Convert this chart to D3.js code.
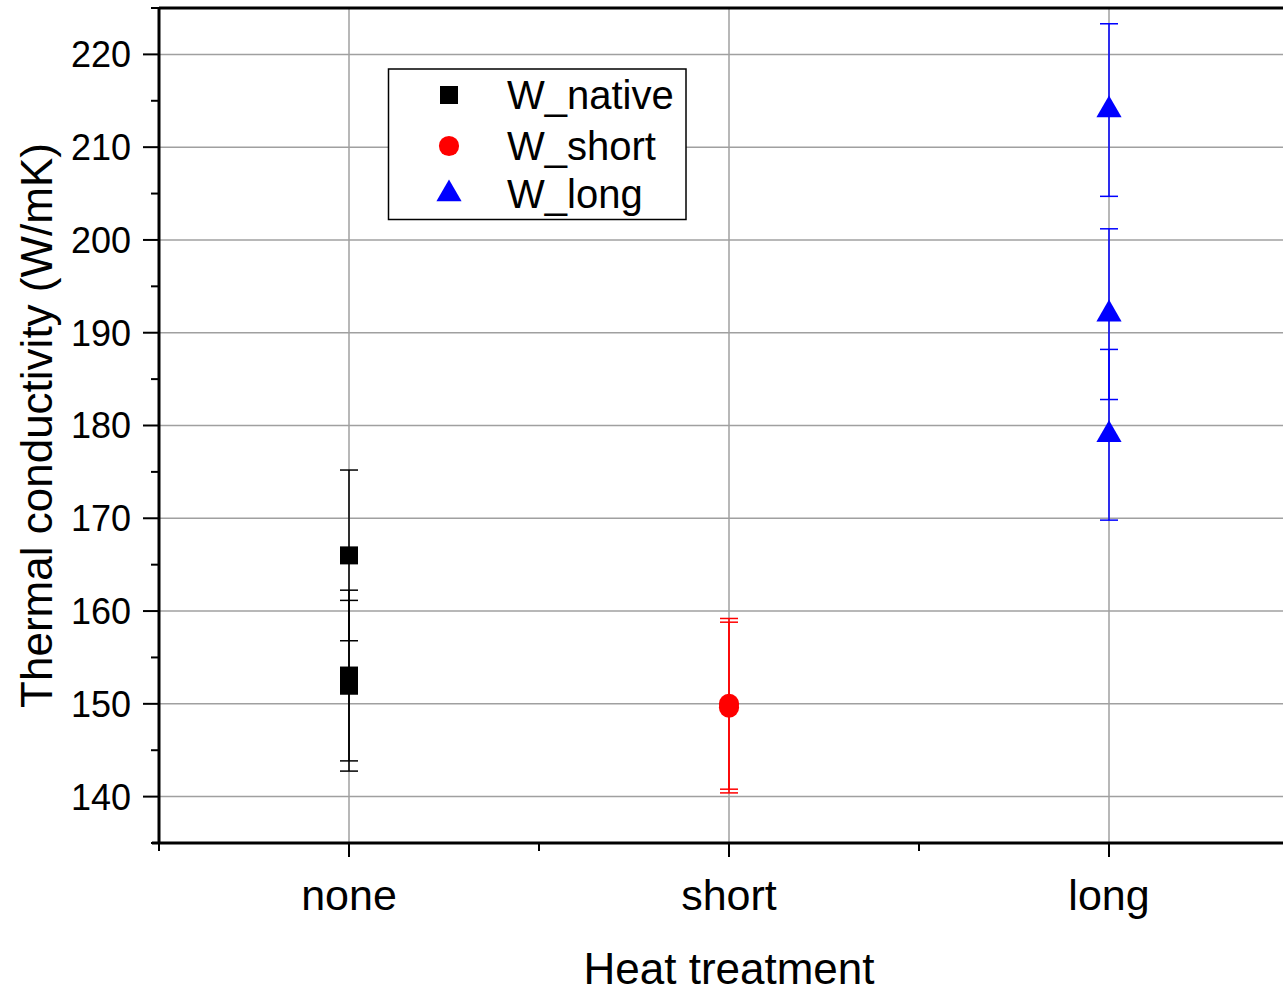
<!DOCTYPE html>
<html>
<head>
<meta charset="utf-8">
<script src="https://cdn.jsdelivr.net/npm/d3@7"></script>
<style>
  html, body { margin: 0; padding: 0; background: #fff; }
  svg { display: block; font-family: "Liberation Sans", Arial, sans-serif; }
</style>
</head>
<body>
<svg id="chart" width="1283" height="994"></svg>
<script>
// Categories on the x axis
const categories = ["none", "short", "long"];
// Y axis ticks (W/mK)
const yTicks = [140, 150, 160, 170, 180, 190, 200, 210, 220];
const yMinorTicks = [135, 145, 155, 165, 175, 185, 195, 205, 215, 225];

// Measured samples per series: value and error (±)
const nativeValues = [166.0, 153.05, 151.95];
const nativeErrors = [9.2, 9.2, 9.2];
const shortValues = [150.0, 149.6];
const shortErrors = [9.2, 9.2];
const longValues = [214.0, 192.0, 179.0];
const longErrors = [9.3, 9.2, 9.2];

const seriesNames = ["W_native", "W_short", "W_long"];
const seriesColors = ["#000000", "#ff0000", "#0000ff"];

const series = [
  { name: seriesNames[0], cat: 0, values: nativeValues, errors: nativeErrors, color: seriesColors[0], symbol: d3.symbolSquare, size: 324 },
  { name: seriesNames[1], cat: 1, values: shortValues, errors: shortErrors, color: seriesColors[1], symbol: d3.symbolCircle, size: 320 },
  { name: seriesNames[2], cat: 2, values: longValues, errors: longErrors, color: seriesColors[2], symbol: d3.symbolTriangle, size: 275 }
];

const svg = d3.select("#chart");
const plot = { left: 159, top: 8, bottom: 843, right: 1299 };

const x = d3.scaleLinear().domain([0.5, 3.5]).range([plot.left, plot.right]);
const y = d3.scaleLinear().domain([135, 225]).range([plot.bottom, plot.top]);

// Grid
const grid = svg.append("g").attr("stroke", "#a0a0a0").attr("stroke-width", 1.5);
grid.selectAll("line.h").data(yTicks).join("line")
  .attr("x1", plot.left).attr("x2", plot.right)
  .attr("y1", d => y(d)).attr("y2", d => y(d));
grid.selectAll("line.v").data(categories).join("line")
  .attr("x1", (d, i) => x(i + 1)).attr("x2", (d, i) => x(i + 1))
  .attr("y1", plot.top).attr("y2", plot.bottom);

// Error bars and markers
const capHalf = 9;
series.forEach(s => {
  const g = svg.append("g").attr("stroke", s.color).attr("stroke-width", 1.5);
  const cx = x(s.cat + 1);
  s.values.forEach((v, i) => {
    const e = s.errors[i];
    g.append("line").attr("x1", cx).attr("x2", cx).attr("y1", y(v + e)).attr("y2", y(v - e));
    [v + e, v - e].forEach(c => {
      g.append("line").attr("x1", cx - capHalf).attr("x2", cx + capHalf).attr("y1", y(c)).attr("y2", y(c));
    });
  });
  svg.append("g").selectAll("path").data(s.values).join("path")
    .attr("d", d3.symbol().type(s.symbol).size(s.size))
    .attr("transform", d => `translate(${cx},${y(d)})`)
    .attr("fill", s.color);
});

// Y axis
const yAxis = svg.append("g");
yAxis.append("line").attr("x1", plot.left).attr("x2", plot.left)
  .attr("y1", plot.top - 1).attr("y2", plot.bottom + 1)
  .attr("stroke", "#000").attr("stroke-width", 3);
yAxis.selectAll("line.maj").data(yTicks).join("line")
  .attr("x1", plot.left - 16).attr("x2", plot.left)
  .attr("y1", d => y(d)).attr("y2", d => y(d))
  .attr("stroke", "#000").attr("stroke-width", 2);
yAxis.selectAll("line.min").data(yMinorTicks).join("line")
  .attr("x1", plot.left - 8).attr("x2", plot.left)
  .attr("y1", d => y(d)).attr("y2", d => y(d))
  .attr("stroke", "#000").attr("stroke-width", 2);
yAxis.selectAll("text").data(yTicks).join("text")
  .attr("x", 131).attr("y", d => y(d)).attr("dy", "0.36em")
  .attr("text-anchor", "end").attr("font-size", 36).text(d => d);

// Top frame
svg.append("line").attr("x1", plot.left).attr("x2", plot.right)
  .attr("y1", plot.top).attr("y2", plot.top)
  .attr("stroke", "#000").attr("stroke-width", 3);

// X axis
const xAxis = svg.append("g");
xAxis.append("line").attr("x1", plot.left - 7).attr("x2", plot.right)
  .attr("y1", plot.bottom).attr("y2", plot.bottom)
  .attr("stroke", "#000").attr("stroke-width", 3);
xAxis.selectAll("line.maj").data(categories).join("line")
  .attr("x1", (d, i) => x(i + 1)).attr("x2", (d, i) => x(i + 1))
  .attr("y1", plot.bottom).attr("y2", plot.bottom + 14)
  .attr("stroke", "#000").attr("stroke-width", 2);
xAxis.selectAll("line.min").data([0.5, 1.5, 2.5, 3.5]).join("line")
  .attr("x1", d => x(d)).attr("x2", d => x(d))
  .attr("y1", plot.bottom).attr("y2", plot.bottom + 8)
  .attr("stroke", "#000").attr("stroke-width", 2);
xAxis.selectAll("text").data(categories).join("text")
  .attr("x", (d, i) => x(i + 1)).attr("y", 910)
  .attr("text-anchor", "middle").attr("font-size", 43).text(d => d);

// Axis titles
svg.append("text").attr("x", 729).attr("y", 984)
  .attr("text-anchor", "middle").attr("font-size", 44).text("Heat treatment");
svg.append("text")
  .attr("transform", `translate(52,${(plot.top + plot.bottom) / 2}) rotate(-90)`)
  .attr("text-anchor", "middle").attr("font-size", 44).text("Thermal conductivity (W/mK)");

// Legend
const legend = svg.append("g");
legend.append("rect").attr("x", 388.5).attr("y", 69).attr("width", 297.5).attr("height", 150.5)
  .attr("fill", "#fff").attr("stroke", "#000").attr("stroke-width", 1.5);
const rows = [95, 146, 194];
series.forEach((s, i) => {
  legend.append("path")
    .attr("d", d3.symbol().type(s.symbol).size(s.size))
    .attr("transform", `translate(449,${rows[i]})`)
    .attr("fill", s.color);
  legend.append("text").attr("x", 507).attr("y", rows[i]).attr("dy", "0.36em")
    .attr("font-size", 40).text(s.name);
});
</script>
</body>
</html>
